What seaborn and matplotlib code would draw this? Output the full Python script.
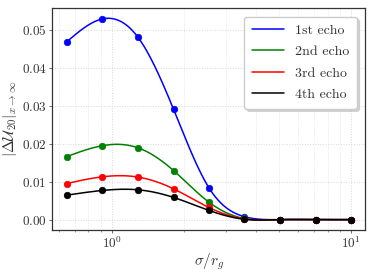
import numpy as np
import pandas as pd
import matplotlib
matplotlib.use("Agg")
import matplotlib.pyplot as plt
import seaborn as sns

sigma = [0.648, 0.914, 1.288, 1.816, 2.55, 3.58, 5.05, 7.12, 10.0]
echo1 = [0.04675, 0.0528, 0.0480, 0.0290, 0.0084, 0.0008, 0.0, 0.0, 0.0]
echo2 = [0.01657, 0.01945, 0.0189, 0.0129, 0.0046, 0.0003, 0.0, 0.0, 0.0]
echo3 = [0.0095, 0.01126, 0.0112, 0.0081, 0.0032, 0.0002, 0.0, 0.0, 0.0]
echo4 = [0.00644, 0.00767, 0.00785, 0.00584, 0.00243, 0.0001, 0.0, 0.0, 0.0]
labels = ["1st echo", "2nd echo", "3rd echo", "4th echo"]
colors = ["blue", "green", "red", "black"]

sns.set_theme(style="ticks")
plt.rcParams.update({
    "font.family": "serif",
    "font.serif": ["cmr10"],
    "mathtext.fontset": "cm",
    "axes.formatter.use_mathtext": True,
    "axes.unicode_minus": False,
})


def natural_spline(x, y, xs):
    x = np.asarray(x, float); y = np.asarray(y, float)
    n = len(x)
    h = np.diff(x)
    A = np.zeros((n, n)); b = np.zeros(n)
    A[0, 0] = 1; A[-1, -1] = 1
    for i in range(1, n - 1):
        A[i, i - 1] = h[i - 1]
        A[i, i] = 2 * (h[i - 1] + h[i])
        A[i, i + 1] = h[i]
        b[i] = 3 * ((y[i + 1] - y[i]) / h[i] - (y[i] - y[i - 1]) / h[i - 1])
    c = np.linalg.solve(A, b)
    out = np.empty_like(xs)
    for k, xv in enumerate(xs):
        i = min(max(np.searchsorted(x, xv) - 1, 0), n - 2)
        d = xv - x[i]
        bi = (y[i + 1] - y[i]) / h[i] - h[i] * (2 * c[i] + c[i + 1]) / 3
        di = (c[i + 1] - c[i]) / (3 * h[i])
        out[k] = y[i] + bi * d + c[i] * d ** 2 + di * d ** 3
    return out


fig, ax = plt.subplots(figsize=(3.74, 2.73), dpi=100)
lx = np.log10(sigma)
fine_lx = np.linspace(lx[0], lx[-1], 300)
for vals, lab, col in zip([echo1, echo2, echo3, echo4], labels, colors):
    smooth = natural_spline(lx, vals, fine_lx)
    df = pd.DataFrame({"x": 10 ** fine_lx, "y": smooth})
    sns.lineplot(data=df, x="x", y="y", ax=ax, color=col, lw=1.1, label=lab)
    pts = pd.DataFrame({"x": sigma, "y": vals})
    sns.scatterplot(data=pts, x="x", y="y", ax=ax, color=col, s=22,
                    edgecolor=col, linewidth=0.5, zorder=3, legend=False)

ax.set_xscale("log")
ax.grid(True, which="major", ls=":", color="#d8d8d8", lw=0.7)
ax.grid(True, which="minor", axis="x", ls=":", color="#e2e2e2", lw=0.6)
ax.set_yticks([0.0, 0.01, 0.02, 0.03, 0.04, 0.05])
ax.set_yticklabels(["$0.00$", "$0.01$", "$0.02$", "$0.03$", "$0.04$", "$0.05$"])
ax.tick_params(axis="both", labelsize=9.5, color="#555555", length=2.5, width=0.6, pad=1.5,
               labelcolor="#333333")
ax.tick_params(axis="x", which="minor", length=1.5, width=0.5, color="#777777")
for s in ax.spines.values():
    s.set_color("#333333"); s.set_linewidth(0.9)
ax.set_xlabel(r"$\sigma/r_g$", fontsize=11, labelpad=0, color="#333333")
ax.set_ylabel(r"$|\Delta\mathcal{U}_{20}|_{x\to\infty}$", fontsize=11, labelpad=2, color="#333333")
leg = ax.legend(loc="upper right", fontsize=10, fancybox=True, shadow={"color": "#bbbbbb", "alpha": 0.6},
                framealpha=1, edgecolor="#cccccc", handlelength=2.3, borderpad=0.55,
                labelspacing=0.62, borderaxespad=0.6)
for t in leg.get_texts():
    t.set_color("#333333")
fig.subplots_adjust(left=0.14, right=0.976, top=0.97, bottom=0.157)
fig.savefig("out.png", dpi=100)
